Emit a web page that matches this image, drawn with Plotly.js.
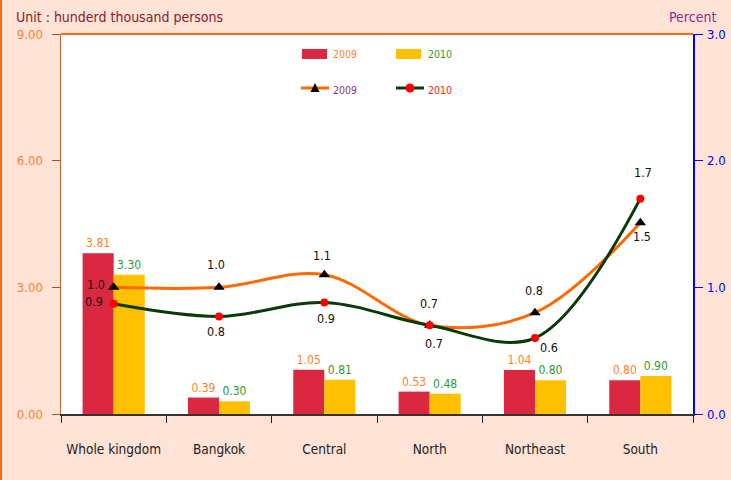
<!DOCTYPE html>
<html>
<head>
<meta charset="utf-8">
<script src="https://cdn.plot.ly/plotly-3.0.1.min.js"></script>
<style>
html,body{margin:0;padding:0;background:#FFE3D6;}
#wrap{position:relative;width:731px;height:480px;}
#chart{width:731px;height:480px;}
#edge{position:absolute;left:0;top:0;width:2px;height:480px;background:#FF6A13;}
</style>
</head>
<body>
<div id="wrap"><div id="chart"></div><div id="edge"></div></div>
<script>
const categories = ["Whole kingdom", "Bangkok", "Central", "North", "Northeast", "South"];
const bars2009 = [3.81, 0.39, 1.05, 0.53, 1.04, 0.80];
const bars2010 = [3.30, 0.30, 0.81, 0.48, 0.80, 0.90];
const pct2009 = [1.00, 1.00, 1.10, 0.70, 0.80, 1.51];
const pct2010 = [0.87, 0.77, 0.88, 0.70, 0.60, 1.70];
const leftTicks = [0, 3, 6, 9];
const leftTickText = ["0.00", "3.00", "6.00", "9.00"];
const rightTicks = [0, 1, 2, 3];
const rightTickText = ["0.0", "1.0", "2.0", "3.0"];
const legendLabels = ["2009", "2010"];

const FONT = "'DejaVu Sans Condensed', 'DejaVu Sans', sans-serif";

// label offsets (pixels) for the percent labels
const off2009 = [[-18, 3], [-3, 23], [-2, 19], [-1, 22], [-1, 22], [2, -14]];
const off2010 = [[-20, 2], [-3, -15], [2, -16], [4, -18], [14, -9], [3, 26]];

// plot area geometry in pixels
const M = {l: 61, r: 38, t: 34, b: 66};
const PW = 731 - M.l - M.r, PH = 480 - M.t - M.b;
const px = x => (x - M.l) / PW;
const py = y => (480 - M.b - y) / PH;

const traces = [
  {
    type: 'bar', x: categories, y: bars2009, name: legendLabels[0], showlegend: false,
    marker: {color: '#D92840'}, texttemplate: '%{y:.2f}', textposition: 'outside',
    textfont: {color: '#FF7F27', size: 12, family: FONT}, cliponaxis: false, hoverinfo: 'skip'
  },
  {
    type: 'bar', x: categories, y: bars2010, name: legendLabels[1], showlegend: false,
    marker: {color: '#FFC000'}, texttemplate: '%{y:.2f}', textposition: 'outside',
    textfont: {color: '#2E9A2E', size: 12, family: FONT}, cliponaxis: false, hoverinfo: 'skip'
  },
  {
    type: 'scatter', mode: 'lines+markers', x: categories, y: pct2009, yaxis: 'y2',
    name: legendLabels[0], showlegend: false,
    line: {color: '#FF6A00', width: 3, shape: 'spline', smoothing: 1},
    marker: {symbol: 'triangle-up', color: '#000000', size: 10}, cliponaxis: false, hoverinfo: 'skip'
  },
  {
    type: 'scatter', mode: 'lines+markers', x: categories, y: pct2010, yaxis: 'y2',
    name: legendLabels[1], showlegend: false,
    line: {color: '#0A3A0A', width: 3, shape: 'spline', smoothing: 1},
    marker: {symbol: 'circle', color: '#FF0000', size: 8}, cliponaxis: false, hoverinfo: 'skip'
  }
];

const annotations = [];
categories.forEach((c, i) => {
  annotations.push({x: c, y: pct2009[i], xref: 'x', yref: 'y2', text: pct2009[i].toFixed(1),
    showarrow: false, xshift: off2009[i][0], yshift: off2009[i][1],
    font: {size: 12.5, color: '#111', family: FONT}});
  annotations.push({x: c, y: pct2010[i], xref: 'x', yref: 'y2', text: pct2010[i].toFixed(1),
    showarrow: false, xshift: off2010[i][0], yshift: off2010[i][1],
    font: {size: 12.5, color: '#111', family: FONT}});
});
annotations.push(
  {text: 'Unit : hunderd thousand persons', xref: 'paper', yref: 'paper',
   x: px(14), y: py(17), xanchor: 'left', yanchor: 'middle', showarrow: false,
   font: {size: 14, color: '#8B1A2A', family: FONT}},
  {text: 'Percent', xref: 'paper', yref: 'paper',
   x: px(718), y: py(17), xanchor: 'right', yanchor: 'middle', showarrow: false,
   font: {size: 14, color: '#8E2C8E', family: FONT}},
  // manual legend labels
  {text: legendLabels[0], xref: 'paper', yref: 'paper', x: px(331), y: py(54), xanchor: 'left', yanchor: 'middle',
   showarrow: false, font: {size: 10.5, color: '#FF7F27', family: FONT}},
  {text: legendLabels[1], xref: 'paper', yref: 'paper', x: px(426), y: py(54), xanchor: 'left', yanchor: 'middle',
   showarrow: false, font: {size: 10.5, color: '#2E9A2E', family: FONT}},
  {text: legendLabels[0], xref: 'paper', yref: 'paper', x: px(331), y: py(90), xanchor: 'left', yanchor: 'middle',
   showarrow: false, font: {size: 10.5, color: '#8E2C8E', family: FONT}},
  {text: legendLabels[1], xref: 'paper', yref: 'paper', x: px(426), y: py(90), xanchor: 'left', yanchor: 'middle',
   showarrow: false, font: {size: 10.5, color: '#FF1A1A', family: FONT}}
);

const shapes = [
  {type: 'line', xref: 'paper', yref: 'paper', x0: 0, x1: 1, y0: 1, y1: 1, line: {color: '#FF6A13', width: 2}},
  // legend swatches
  {type: 'rect', xref: 'paper', yref: 'paper', x0: px(302), x1: px(327), y0: py(59), y1: py(49),
   fillcolor: '#D92840', line: {width: 0}},
  {type: 'rect', xref: 'paper', yref: 'paper', x0: px(396), x1: px(421), y0: py(59), y1: py(49),
   fillcolor: '#FFC000', line: {width: 0}},
  {type: 'line', xref: 'paper', yref: 'paper', x0: px(301), x1: px(329), y0: py(88), y1: py(88),
   line: {color: '#FF6A00', width: 3}},
  {type: 'path', xref: 'paper', yref: 'paper',
   path: `M ${px(310.5)} ${py(92)} L ${px(319.5)} ${py(92)} L ${px(315)} ${py(83)} Z`,
   fillcolor: '#000000', line: {width: 0}},
  {type: 'line', xref: 'paper', yref: 'paper', x0: px(396), x1: px(424), y0: py(88), y1: py(88),
   line: {color: '#0A3A0A', width: 3}},
  {type: 'circle', xref: 'paper', yref: 'paper', x0: px(405.5), x1: px(414.5), y0: py(92.5), y1: py(83.5),
   fillcolor: '#FF0000', line: {width: 0}}
];

const layout = {
  width: 731, height: 480,
  margin: M,
  paper_bgcolor: '#FFE3D6', plot_bgcolor: '#FFFFFF',
  font: {family: FONT, size: 12, color: '#222'},
  showlegend: false,
  barmode: 'group', bargap: 0.41, bargroupgap: 0,
  xaxis: {
    type: 'category', tickson: 'boundaries', ticks: 'outside', ticklen: 7, tickcolor: '#222',
    showline: true, linecolor: '#333', linewidth: 1.5, showgrid: false,
    tickfont: {size: 13.5, color: '#222', family: FONT}, ticklabelstandoff: 22
  },
  yaxis: {
    range: [0, 9], tickvals: leftTicks, ticktext: leftTickText, showgrid: false, zeroline: false,
    showline: true, linecolor: '#CF6630', linewidth: 1.5, ticks: 'outside', ticklen: 8, tickcolor: '#A0522D',
    tickfont: {size: 13, color: '#FF7F27', family: FONT}, ticklabelstandoff: 6
  },
  yaxis2: {
    range: [0, 3], tickvals: rightTicks, ticktext: rightTickText, overlaying: 'y', side: 'right',
    showgrid: false, zeroline: false, showline: true, linecolor: '#0000FF', linewidth: 1.5,
    ticks: 'outside', ticklen: 8, tickcolor: '#0000FF',
    tickfont: {size: 13, color: '#0000FF', family: FONT}, ticklabelstandoff: 2
  },
  shapes: shapes,
  annotations: annotations
};

Plotly.newPlot('chart', traces, layout, {displayModeBar: false, staticPlot: true});
</script>
</body>
</html>
